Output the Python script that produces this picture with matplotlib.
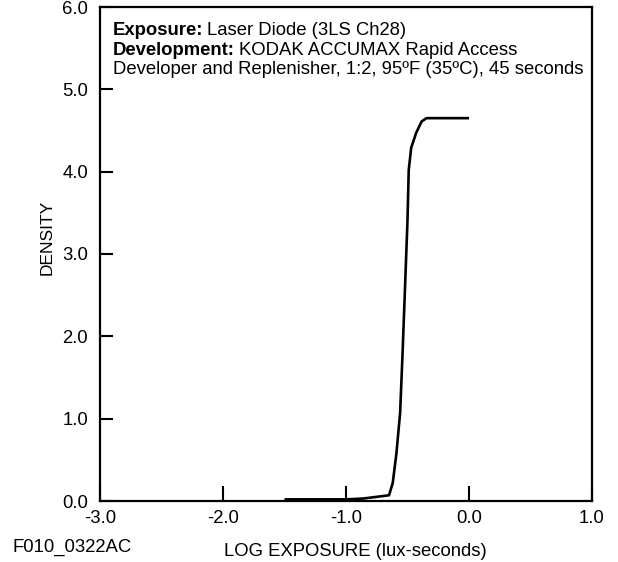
import matplotlib
matplotlib.use("Agg")
import matplotlib.pyplot as plt

plt.rcParams['font.family'] = ['Liberation Sans', 'DejaVu Sans']

# characteristic curve
log_exposure = [-1.50, -1.20, -1.00, -0.86, -0.70, -0.65, -0.62, -0.59, -0.56,
                -0.54, -0.52, -0.50, -0.49, -0.47, -0.43, -0.385, -0.345, 0.0]
density = [0.02, 0.02, 0.02, 0.03, 0.06, 0.07, 0.22, 0.58, 1.07,
           1.80, 2.60, 3.41, 4.02, 4.29, 4.47, 4.61, 4.65, 4.65]

x_ticks = [-3.0, -2.0, -1.0, 0.0, 1.0]
y_ticks = [0.0, 1.0, 2.0, 3.0, 4.0, 5.0, 6.0]

FS = 13.3
W, H = 618, 562

fig = plt.figure(figsize=(W / 100, H / 100), dpi=100)
ax = fig.add_axes([100 / W, 1 - 501 / H, 492 / W, 494 / H])

ax.plot(log_exposure, density, color='black', lw=1.9, solid_capstyle='butt')

ax.set_xlim(-3.0, 1.0)
ax.set_ylim(0.0, 6.0)
ax.set_xticks(x_ticks)
ax.set_yticks(y_ticks)
ax.set_xticklabels(['%.1f' % v for v in x_ticks])
ax.set_yticklabels(['%.1f' % v for v in y_ticks])
ax.tick_params(axis='x', direction='in', length=11, width=1.5, pad=6.5, labelsize=FS)
ax.tick_params(axis='y', direction='in', length=9, width=1.5, pad=8.5, labelsize=FS)
for sp in ax.spines.values():
    sp.set_linewidth(1.6)

fig.text(47 / W, 1 - 237 / H, 'DENSITY', fontsize=12.5, rotation=90,
         va='center', ha='center')


def label_line(y_px, bold_part, rest):
    # bold lead-in followed by regular text on the same baseline
    x0 = 113 / W
    yy = 1 - y_px / H
    if bold_part:
        t = fig.text(x0, yy, bold_part, fontsize=FS, fontweight='bold',
                     va='baseline', ha='left')
        fig.canvas.draw()
        x0 += (t.get_window_extent().width + 4) / W
    fig.text(x0, yy, rest, fontsize=FS, va='baseline', ha='left')


label_line(35, 'Exposure:', 'Laser Diode (3LS Ch28)')
label_line(55, 'Development:', 'KODAK ACCUMAX Rapid Access')
label_line(74, None, 'Developer and Replenisher, 1:2, 95\u00baF (35\u00baC), 45 seconds')

fig.text(13 / W, 1 - 547 / H, 'F010_0322AC', fontsize=FS, va='center', ha='left')
fig.text(355 / W, 1 - 552 / H, 'LOG EXPOSURE (lux-seconds)', fontsize=FS,
         va='center', ha='center')

fig.savefig('out.png', dpi=100)
